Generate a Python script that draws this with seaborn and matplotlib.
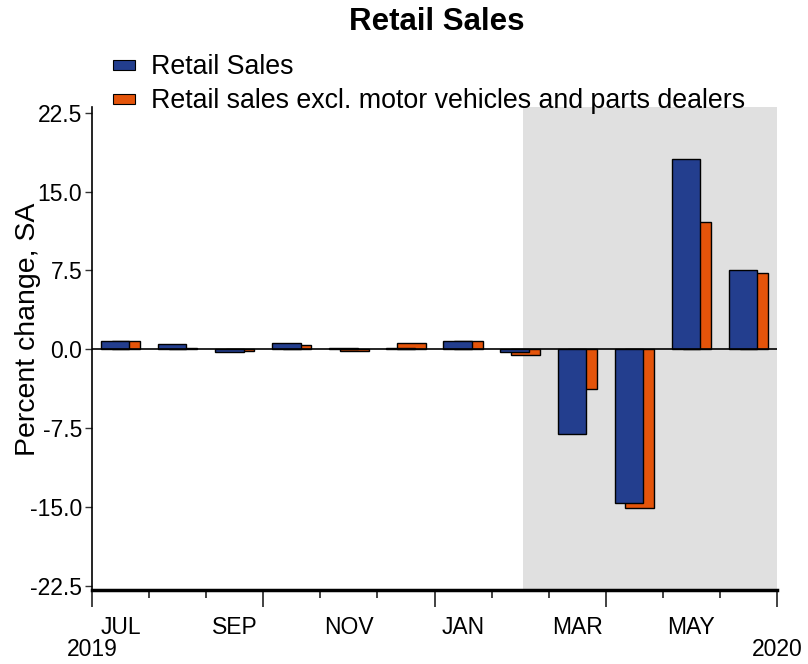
import matplotlib
matplotlib.use("Agg")
import matplotlib.pyplot as plt
import matplotlib.patches as mpatches
import seaborn as sns
import pandas as pd
import numpy as np

# -------------------------------
# Data: monthly percent change, Jul 2019 - Jun 2020
# -------------------------------
months = ['JUL', 'AUG', 'SEP', 'OCT', 'NOV', 'DEC',
          'JAN', 'FEB', 'MAR', 'APR', 'MAY', 'JUN']
retail_sales = [0.8, 0.5, -0.3, 0.6, 0.1, 0.1, 0.8, -0.3, -8.1, -14.6, 18.1, 7.5]
retail_ex_auto = [0.8, 0.1, -0.2, 0.4, -0.2, 0.6, 0.8, -0.5, -3.8, -15.1, 12.1, 7.3]
year_labels = ['2019', '2020']
yticks = [-22.5, -15.0, -7.5, 0.0, 7.5, 15.0, 22.5]
shade_start = 'FEB'

blue = '#233E8E'
orange = '#E4540A'

sns.set_style("white")
plt.rcParams['font.family'] = ['Liberation Sans', 'DejaVu Sans']
plt.rcParams['text.color'] = 'black'
plt.rcParams['axes.labelcolor'] = 'black'
plt.rcParams['xtick.color'] = 'black'
plt.rcParams['ytick.color'] = 'black'

fig = plt.figure(figsize=(8.08, 6.64), dpi=100)
ax = fig.add_axes([0.1139, 0.1114, 0.8477, 0.7275])

idx = np.arange(len(months))
shift = 0.095

# shaded period
ax.axvspan(months.index(shade_start) + 0.05, len(months) - 0.5, color='#E0E0E0', zorder=0, lw=0)

# orange first so blue sits on top
df_ex = pd.DataFrame({'pos': idx + shift, 'value': retail_ex_auto})
sns.barplot(data=df_ex, x='pos', y='value', native_scale=True, width=0.5,
            color=orange, saturation=1, edgecolor='black', linewidth=1, ax=ax, zorder=2)
df_rs = pd.DataFrame({'pos': idx - shift, 'value': retail_sales})
sns.barplot(data=df_rs, x='pos', y='value', native_scale=True, width=0.5,
            color=blue, saturation=1, edgecolor='black', linewidth=1, ax=ax, zorder=3)

ax.axhline(0, color='black', lw=1.2, zorder=4)

ax.set_xlim(-0.5, len(months) - 0.5)
ax.set_ylim(-22.9, 23.05)
ax.set_yticks(yticks)
ax.set_yticklabels([f"{v:.1f}" for v in yticks], fontsize=16.5)
ax.set_ylabel("Percent change, SA", fontsize=20.5)
ax.yaxis.set_label_coords(-0.075, 0.54)
ax.set_xlabel("")

# x ticks: long at quarter boundaries, short at month boundaries
edges = np.arange(len(months) + 1) - 0.5
ax.set_xticks(edges[::3])
ax.set_xticklabels([])
ax.set_xticks([e for i, e in enumerate(edges) if i % 3], minor=True)
ax.tick_params(axis='x', which='major', bottom=True, direction='out', length=12, width=1.3, color='#333333')
ax.tick_params(axis='x', which='minor', bottom=True, direction='out', length=6, width=1.3, color='#333333')
ax.tick_params(axis='y', left=True, direction='out', length=5, width=1, color='#333333', pad=2)

trans = ax.get_xaxis_transform()
for i in idx[::2]:
    ax.text(i, -0.077, months[i], transform=trans, ha='center', va='center', fontsize=16.5)
ax.text(edges[0], -0.124, year_labels[0], transform=trans, ha='center', va='center', fontsize=16.5)
ax.text(edges[-1], -0.124, year_labels[1], transform=trans, ha='center', va='center', fontsize=16.5)

for s in ['top', 'right']:
    ax.spines[s].set_visible(False)
ax.spines['left'].set_color('black')
ax.spines['left'].set_linewidth(1.2)
ax.spines['bottom'].set_color('black')
ax.spines['bottom'].set_linewidth(2.5)

fig.suptitle("Retail Sales", fontsize=22.5, fontweight='bold', x=0.54, y=0.99)

handles = [mpatches.Patch(facecolor=blue, edgecolor='black', lw=0.8, label='Retail Sales'),
           mpatches.Patch(facecolor=orange, edgecolor='black', lw=0.8,
                          label='Retail sales excl. motor vehicles and parts dealers')]
fig.legend(handles=handles, loc='upper left', bbox_to_anchor=(0.1395, 0.918), frameon=False,
           fontsize=19.3, handlelength=0.82, handleheight=0.22, handletextpad=0.6,
           labelspacing=0.3, borderpad=0, borderaxespad=0)

fig.savefig("out.png", dpi=100)
